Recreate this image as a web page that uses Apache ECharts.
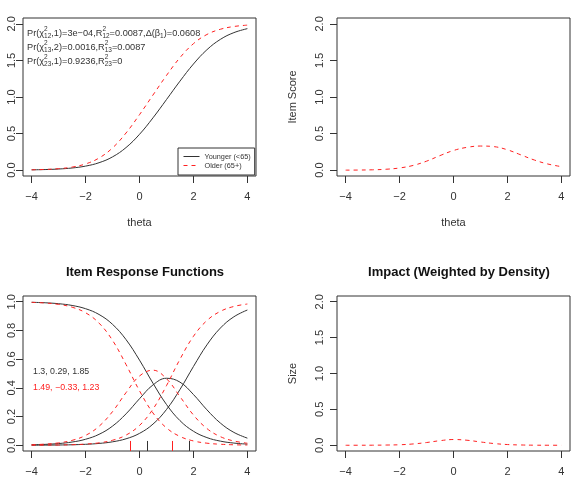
<!DOCTYPE html>
<html>
<head>
<meta charset="utf-8">
<script src="https://cdn.jsdelivr.net/npm/echarts@6/dist/echarts.min.js"></script>
<style>
  html, body { margin: 0; padding: 0; background: #fff; }
  #chart { width: 573px; height: 490px; }
</style>
</head>
<body>
<div id="chart"></div>
<script>
// theta grid
var theta = [-4, -3.5, -3, -2.5, -2, -1.5, -1, -0.5, 0, 0.5, 1, 1.5, 2, 2.5, 3, 3.5, 4];

// item true score functions
var younger = [0.0043, 0.0082, 0.0155, 0.0294, 0.0552, 0.1016, 0.1815, 0.3087, 0.4897, 0.7152, 0.9645, 1.2164, 1.4509, 1.6460, 1.7881, 1.8800, 1.9344];
var older = [0.0046, 0.0097, 0.0202, 0.0417, 0.0848, 0.1657, 0.3041, 0.5077, 0.7584, 1.0270, 1.2940, 1.5378, 1.7289, 1.8545, 1.9262, 1.9638, 1.9825];

// difference in item score
var scoreDiff = [0.0003, 0.0015, 0.0047, 0.0123, 0.0296, 0.0641, 0.1226, 0.1990, 0.2687, 0.3118, 0.3295, 0.3214, 0.2780, 0.2085, 0.1381, 0.0838, 0.0481];

// item response functions, category 0 / 1 / 2
var youngP0 = [0.9962, 0.9928, 0.9863, 0.9741, 0.9515, 0.9111, 0.8425, 0.7363, 0.5931, 0.4322, 0.2843, 0.1718, 0.0977, 0.0535, 0.0287, 0.0152, 0.0080];
var youngP1 = [0.0033, 0.0062, 0.0119, 0.0224, 0.0418, 0.0762, 0.1335, 0.2187, 0.3241, 0.4204, 0.4669, 0.4400, 0.3537, 0.2470, 0.1545, 0.0896, 0.0496];
var youngP2 = [0.0005, 0.0010, 0.0018, 0.0035, 0.0067, 0.0127, 0.0240, 0.0450, 0.0828, 0.1474, 0.2488, 0.3882, 0.5486, 0.6995, 0.8168, 0.8952, 0.9424];
var oldP0 = [0.9958, 0.9912, 0.9816, 0.9621, 0.9233, 0.8511, 0.7307, 0.5629, 0.3795, 0.2250, 0.1211, 0.0614, 0.0301, 0.0145, 0.0070, 0.0033, 0.0016];
var oldP1 = [0.0038, 0.0079, 0.0166, 0.0341, 0.0686, 0.1321, 0.2345, 0.3665, 0.4826, 0.5230, 0.4638, 0.3394, 0.2109, 0.1165, 0.0598, 0.0296, 0.0143];
var oldP2 = [0.0004, 0.0009, 0.0018, 0.0038, 0.0081, 0.0168, 0.0348, 0.0706, 0.1379, 0.2520, 0.4151, 0.5992, 0.7590, 0.8690, 0.9332, 0.9671, 0.9841];

// impact weighted by density
var impact = [0.0000, 0.0003, 0.0010, 0.0030, 0.0070, 0.0180, 0.0380, 0.0640, 0.0800, 0.0700, 0.0460, 0.0240, 0.0100, 0.0040, 0.0010, 0.0003, 0.0000];

// item parameters (a, b1, b2)
var youngParams = [1.3, 0.29, 1.85];
var oldParams = [1.49, -0.33, 1.23];

var xTicks = [-4, -2, 0, 2, 4];
var yTicks2 = [0, 0.5, 1, 1.5, 2];
var yTicks1 = [0, 0.2, 0.4, 0.6, 0.8, 1];

var fam = 'Liberation Sans, Arial, sans-serif';
var ink = '#333';
var red = '#ff2020';

function pairs(ys) {
  return theta.map(function (t, i) { return [t, ys[i]]; });
}
function minus(v) {
  return String(v).replace('-', '\u2212');
}

function xAxisFor(g, name) {
  return {
    gridIndex: g, type: 'value', min: -4.32, max: 4.32,
    name: name || '', nameLocation: 'middle', nameGap: 41,
    nameTextStyle: { fontFamily: fam, fontSize: 11, color: ink },
    axisLine: { show: false, onZero: false },
    splitLine: { show: false },
    axisTick: { show: true, length: 7, inside: false, customValues: xTicks, lineStyle: { color: ink } },
    axisLabel: { customValues: xTicks, margin: 15, fontFamily: fam, fontSize: 11, color: ink,
      formatter: function (v) { return minus(v); } }
  };
}
function yAxisFor(g, ticks, max, name, margin) {
  var pad = max * 0.04;
  return {
    gridIndex: g, type: 'value', min: -pad, max: max + pad,
    name: name || '', nameLocation: 'middle', nameGap: 39, nameRotate: 90,
    nameTextStyle: { fontFamily: fam, fontSize: 11, color: ink },
    axisLine: { show: false, onZero: false },
    splitLine: { show: false },
    axisTick: { show: true, length: 7, inside: false, customValues: ticks, lineStyle: { color: ink } },
    axisLabel: { customValues: ticks, rotate: 90, margin: margin, fontFamily: fam, fontSize: 11, color: ink,
      formatter: function (v) { return v.toFixed(1); } }
  };
}
function line(name, g, ys, color, dashed) {
  return {
    name: name, type: 'line', xAxisIndex: g, yAxisIndex: g,
    data: pairs(ys), showSymbol: false, symbol: 'none', smooth: 0.4,
    lineStyle: { color: color, width: 1, type: dashed ? [4, 4] : 'solid' },
    itemStyle: { color: color }
  };
}
function thresholdMarks(bs, color) {
  return {
    symbol: 'none', silent: true, animation: false,
    label: { show: false },
    lineStyle: { color: color, width: 1, type: 'solid' },
    data: bs.map(function (b) { return [{ coord: [b, -0.04] }, { coord: [b, 0.03] }]; })
  };
}

var irfSeries = [
  line('y0', 2, youngP0, ink, false),
  line('y1', 2, youngP1, ink, false),
  line('y2', 2, youngP2, ink, false),
  line('o0', 2, oldP0, red, true),
  line('o1', 2, oldP1, red, true),
  line('o2', 2, oldP2, red, true)
];
irfSeries[2].markLine = thresholdMarks(youngParams.slice(1), ink);
irfSeries[5].markLine = thresholdMarks(oldParams.slice(1), red);

var statsText =
  '{n|Pr(\u03c7}{sp|2}{sb|12}{n|,1)=3e\u221204,R}{sp|2}{sb|12}{n|=0.0087,\u0394(\u03b2}{sb|1}{n|)=0.0608}\n' +
  '{n|Pr(\u03c7}{sp|2}{sb|13}{n|,2)=0.0016,R}{sp|2}{sb|13}{n|=0.0087}\n' +
  '{n|Pr(\u03c7}{sp|2}{sb|23}{n|,1)=0.9236,R}{sp|2}{sb|23}{n|=0}';

var chart = echarts.init(document.getElementById('chart'), null, { renderer: 'canvas' });
chart.setOption({
  animation: false,
  backgroundColor: '#fff',
  textStyle: { fontFamily: fam },
  title: [
    { text: 'Item Response Functions', left: 140, top: 261, textAlign: 'center',
      textStyle: { fontFamily: fam, fontSize: 13, fontWeight: 'bold', color: '#111' } },
    { text: 'Impact (Weighted by Density)', left: 454, top: 261, textAlign: 'center',
      textStyle: { fontFamily: fam, fontSize: 13, fontWeight: 'bold', color: '#111' } }
  ],
  grid: [
    { left: 23, top: 18, width: 233, height: 158, show: true, borderColor: ink, borderWidth: 1, backgroundColor: 'transparent' },
    { left: 337, top: 18, width: 233, height: 158, show: true, borderColor: ink, borderWidth: 1, backgroundColor: 'transparent' },
    { left: 23, top: 296, width: 233, height: 155, show: true, borderColor: ink, borderWidth: 1, backgroundColor: 'transparent' },
    { left: 337, top: 296, width: 233, height: 155, show: true, borderColor: ink, borderWidth: 1, backgroundColor: 'transparent' }
  ],
  xAxis: [xAxisFor(0, 'theta'), xAxisFor(1, 'theta'), xAxisFor(2), xAxisFor(3)],
  yAxis: [
    yAxisFor(0, yTicks2, 2, '', 6),
    yAxisFor(1, yTicks2, 2, 'Item Score', 12),
    yAxisFor(2, yTicks1, 1, '', 6),
    yAxisFor(3, yTicks2, 2, 'Size', 12)
  ],
  legend: {
    data: ['Younger (<65)', 'Older (65+)'],
    orient: 'vertical', left: 178, top: 148,
    borderColor: ink, borderWidth: 1, borderRadius: 0, backgroundColor: '#fff',
    padding: [5, 4, 6, 5], itemGap: 2, itemWidth: 16, itemHeight: 8,
    selectedMode: false,
    itemStyle: { color: 'transparent', borderWidth: 0, opacity: 0 },
    lineStyle: { width: 1 },
    textStyle: { fontFamily: fam, fontSize: 7.3, color: ink }
  },
  graphic: [
    { type: 'text', left: 27, top: 26, silent: true,
      style: { text: statsText, fill: ink,
        rich: {
          n: { fontFamily: fam, fontSize: 9.2, lineHeight: 14, color: ink },
          sp: { fontFamily: fam, fontSize: 6.5, width: 0, verticalAlign: 'top', color: ink },
          sb: { fontFamily: fam, fontSize: 6.5, verticalAlign: 'bottom', color: ink }
        } } },
    { type: 'text', left: 33, top: 367, silent: true,
      style: { text: youngParams.map(minus).join(', '), fill: ink, font: '8.8px ' + fam } },
    { type: 'text', left: 33, top: 383, silent: true,
      style: { text: oldParams.map(minus).join(', '), fill: red, font: '8.8px ' + fam } }
  ],
  series: [
    line('Younger (<65)', 0, younger, ink, false),
    line('Older (65+)', 0, older, red, true),
    line('Difference', 1, scoreDiff, red, true),
    line('Impact', 3, impact, red, true)
  ].concat(irfSeries)
});
</script>
</body>
</html>
